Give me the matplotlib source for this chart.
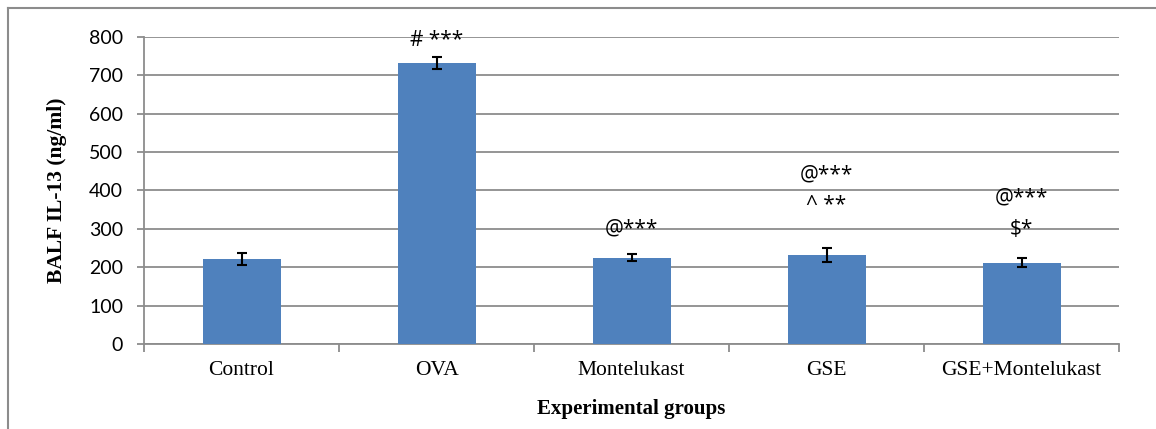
import matplotlib.pyplot as plt
from matplotlib.lines import Line2D
import numpy as np

groups = ['Control', 'OVA', 'Montelukast', 'GSE', 'GSE+Montelukast']
il13 = [221, 732, 225, 232, 212]
sem = [15, 15, 10, 19, 11]
# significance marks: (group index, text, y value)
marks = [(1, '# ***', 790), (2, '@***', 300), (3, '@***', 440), (3, '^ **', 362),
         (4, '@***', 380), (4, '$*', 297)]

fig = plt.figure(figsize=(11.56, 4.29), dpi=100)
ax = fig.add_axes([0.1246, 0.198, 0.8434, 0.7162])

x = np.arange(len(groups))
ax.bar(x, il13, width=0.4, color='#4f81bd', zorder=3)
ax.errorbar(x, il13, yerr=sem, fmt='none', ecolor='black', elinewidth=1.5,
            capsize=3.8, capthick=1.5, zorder=4)

for i, txt, yv in marks:
    ax.text(i, yv, txt, ha='center', va='center', fontsize=15, family='Open Sans')

ax.set_xlim(-0.5, len(groups) - 0.5)
ax.set_ylim(0, 800)
ax.set_yticks(range(0, 801, 100))
ax.yaxis.grid(True, color='#8c8c8c', linewidth=1.3, zorder=0)
ax.set_xticks(x)
ax.set_xticklabels(groups, family='Liberation Serif', fontsize=15.5)
ax.set_xticks(np.arange(-0.5, len(groups)), minor=True)
ax.tick_params(axis='x', which='major', length=0, pad=12)
ax.tick_params(axis='x', which='minor', length=6, color='#8c8c8c', width=1.3)
ax.tick_params(axis='y', length=5, color='#8c8c8c', width=1.3, labelsize=14, pad=10)
for lab in ax.get_yticklabels():
    lab.set_family('Lato')

for s in ['top', 'right']:
    ax.spines[s].set_visible(False)
for s in ['left', 'bottom']:
    ax.spines[s].set_color('#8c8c8c')
    ax.spines[s].set_linewidth(1.3)

ax.set_xlabel('Experimental groups', family='Liberation Serif', fontweight='bold',
              fontsize=15, labelpad=14)
ax.set_ylabel('BALF IL-13 (ng/ml)', family='Liberation Serif', fontweight='bold',
              fontsize=15.5, labelpad=16)

# outer frame (left and top edges)
fig.add_artist(Line2D([0.0065, 0.0065], [0, 0.981], color='#8c8c8c', lw=1.5,
                      transform=fig.transFigure))
fig.add_artist(Line2D([0.0065, 1.0], [0.981, 0.981], color='#8c8c8c', lw=1.5,
                      transform=fig.transFigure))

fig.savefig('out.png', dpi=100)
